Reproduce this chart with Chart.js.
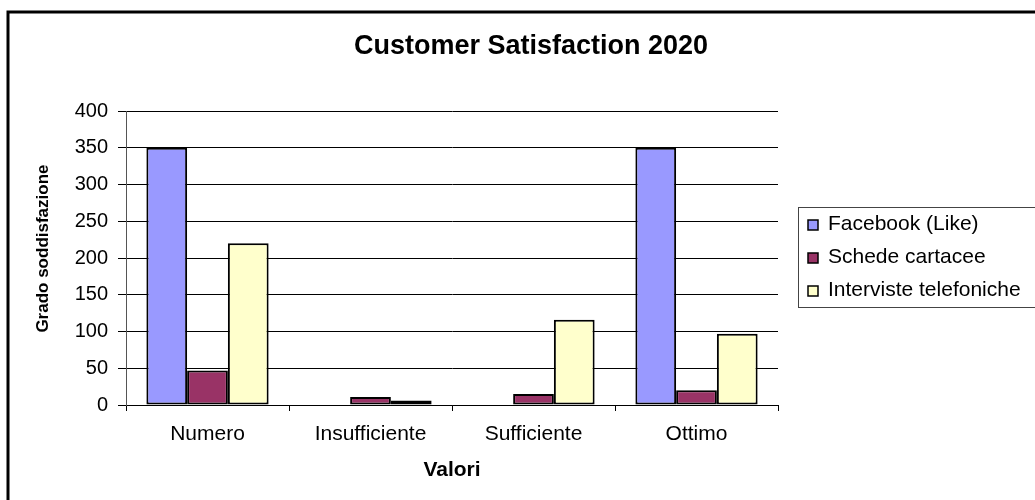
<!DOCTYPE html>
<html>
<head>
<meta charset="utf-8">
<script src="https://cdn.jsdelivr.net/npm/chart.js@4/dist/chart.umd.min.js"></script>
<style>
  html, body { margin: 0; padding: 0; background: #fff; }
  #wrap { width: 1035px; height: 500px; position: relative; }
</style>
</head>
<body>
<div id="wrap"><canvas id="chart" width="1035" height="500"></canvas></div>
<script>
// Customer Satisfaction 2020 - grouped bar chart

const chartTitle = 'Customer Satisfaction 2020';
const categories = ['Numero', 'Insufficiente', 'Sufficiente', 'Ottimo'];
const seriesNames = ['Facebook (Like)', 'Schede cartacee', 'Interviste telefoniche'];
const facebook = [350, 0, 0, 350];
const schede = [47, 11, 15, 20];
const interviste = [220, 6, 116, 97];
const yTicks = [0, 50, 100, 150, 200, 250, 300, 350, 400];
const colors = ['#9999ff', '#993366', '#ffffcc'];

const FONT = "'Liberation Sans', Arial, sans-serif";

// Title, outer frame and boxed legend drawn by hand
const decorations = {
    id: 'decorations',
    afterDraw(chart) {
        const c = chart.ctx;
        c.save();
        // outer frame (only left and top are visible)
        c.strokeStyle = '#000';
        c.lineWidth = 3;
        c.beginPath(); c.moveTo(8, 700); c.lineTo(8, 12); c.lineTo(1200, 12); c.stroke();

        // title
        c.fillStyle = '#000';
        c.font = `bold 27px ${FONT}`;
        c.textAlign = 'center';
        c.textBaseline = 'middle';
        c.fillText(chartTitle, 531, 47);

        // legend box
        c.lineWidth = 1;
        c.strokeStyle = '#444';
        c.strokeRect(798.5, 207.5, 400, 100);
        c.font = `21px ${FONT}`;
        c.textAlign = 'left';
        chart.data.datasets.forEach((ds, i) => {
            const y = 224 + i * 33;
            c.fillStyle = ds.backgroundColor;
            c.fillRect(808, y - 4, 10, 10);
            c.strokeStyle = '#000';
            c.lineWidth = 1.5;
            c.strokeRect(808, y - 4, 10, 10);
            c.fillStyle = '#000';
            c.fillText(ds.label, 828, y);
        });
        c.restore();
    }
};

const datasets = [facebook, schede, interviste].map((vals, i) => ({
    label: seriesNames[i],
    data: vals,
    backgroundColor: colors[i],
    borderColor: '#000',
    borderWidth: 2,
    borderSkipped: false,
    categoryPercentage: 0.75,
    barPercentage: 1.0
}));

new Chart(document.getElementById('chart'), {
    type: 'bar',
    data: { labels: categories, datasets },
    options: {
        responsive: false,
        animation: false,
        layout: { padding: { top: 111, left: 0, right: 257, bottom: 0 } },
        plugins: {
            legend: { display: false },
            title: { display: false },
            tooltip: { enabled: false }
        },
        scales: {
            x: {
                grid: { display: true, drawOnChartArea: false, drawTicks: true, tickLength: 6, offset: true, color: '#000' },
                border: { display: true, color: '#000', width: 1 },
                ticks: { color: '#000', font: { family: FONT, size: 21 }, padding: 11 },
                title: {
                    display: true, text: 'Valori', color: '#000',
                    font: { family: FONT, size: 21, weight: 'bold' },
                    padding: { top: 0, bottom: 17 }
                },
                afterFit(scale) { scale.height = 95; }
            },
            y: {
                min: 0, max: 400,
                afterBuildTicks(scale) { scale.ticks = yTicks.map(v => ({ value: v })); },
                grid: { color: '#000', lineWidth: 1, tickLength: 8 },
                border: { display: true, color: '#555', width: 1 },
                ticks: { color: '#000', font: { family: FONT, size: 20 }, padding: 10 },
                title: {
                    display: true, text: '    Grado soddisfazione', color: '#000',
                    font: { family: FONT, size: 17, weight: 'bold' },
                    padding: { top: 33, bottom: 0 }
                },
                afterFit(scale) { scale.width = 126; }
            }
        }
    },
    plugins: [decorations]
});
</script>
</body>
</html>
